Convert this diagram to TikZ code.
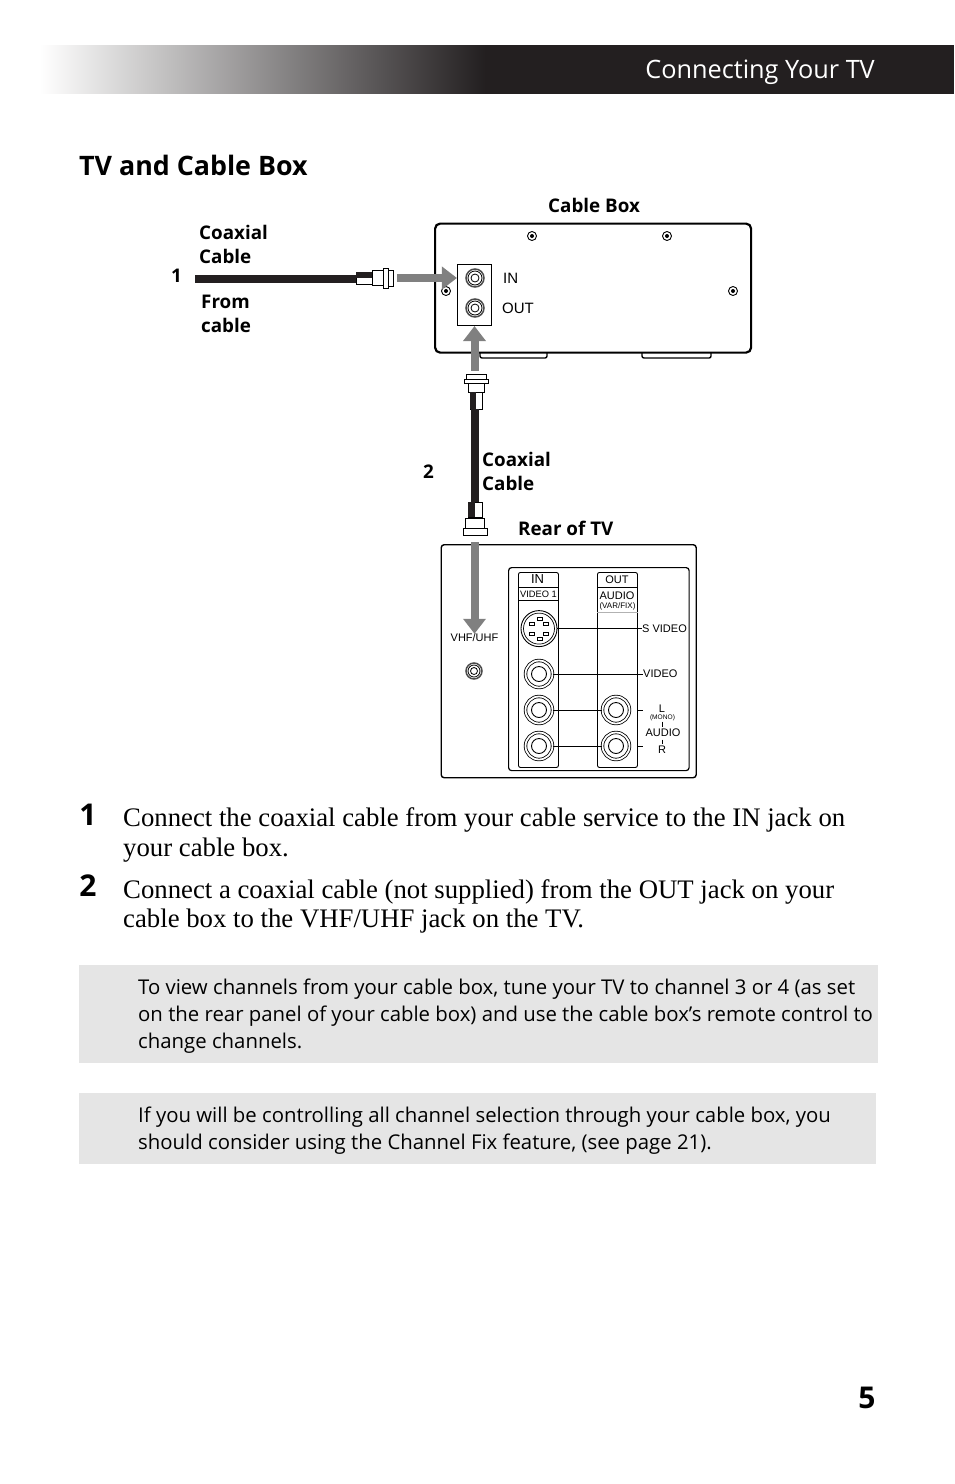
\documentclass[tikz,border=0pt]{standalone}
\usepackage{fontspec}
\setmainfont{Liberation Serif}
\setsansfont{Open Sans}
\newfontfamily\arialfont{Liberation Sans}
\usetikzlibrary{positioning,arrows.meta,calc}
\definecolor{darkbar}{HTML}{231F20}
\tikzset{
  tag/.style ={inner sep=0pt, anchor=west, align=left, font=\sffamily\bfseries\fontsize{18.8}{24}\selectfont},
  small/.style ={inner sep=0pt, font=\arialfont\fontsize{11}{13}\selectfont},
  boxlabel/.style ={inner sep=0pt, anchor=west, font=\arialfont\fontsize{15}{18}\selectfont},
  stepno/.style ={inner sep=0pt, font=\sffamily\bfseries\fontsize{30}{30}\selectfont},
  steptext/.style ={inner sep=0pt, anchor=west, align=left, font=\fontsize{26.75}{29.5}\selectfont},
  notebox/.style ={inner sep=0pt, anchor=north west, fill=black!10},
  notetext/.style ={inner sep=0pt, anchor=west, align=left, font=\sffamily\fontsize{20.35}{27}\selectfont},
  panelbox/.style ={draw=black, line width=1.1pt, fill=white, inner sep=0pt},
  coaxjack/.style ={circle, draw=black!70, line width=1.5pt, fill=white, minimum size=18pt, inner sep=0pt},
  coaxring/.style ={circle, draw=black, line width=0.8pt, inner sep=0pt},
  screw/.style ={circle, draw=black, line width=0.9pt, fill=white, minimum size=9pt, inner sep=0pt},
  rcajack/.style ={circle, draw=black, line width=0.8pt, double=white, double distance=1.8pt, fill=white, minimum size=27pt, inner sep=0pt},
  rcacore/.style ={circle, draw=black, line width=0.9pt, minimum size=15pt, inner sep=0pt},
  column/.style ={draw=black, line width=0.9pt, rounded corners=2pt, inner sep=0pt, minimum width=40pt, minimum height=195pt, anchor=north west},
  plugpart/.style ={rectangle, draw=black, line width=0.9pt, fill=white, inner sep=0pt},
  flow/.style={-{Triangle[length=15pt,width=22pt]}, draw=black!50, line width=8pt},
  coax/.style={draw=darkbar, line width=8pt},
  lead/.style={draw=black, line width=0.8pt},
}
\begin{document}
\begin{tikzpicture}[x=1pt,y=-1pt]
\useasboundingbox (0,0) rectangle (954,1484);
% --- page header ---
\fill[darkbar] (484,45) rectangle (954,94);
\shade[left color=white,right color=darkbar] (40,45) rectangle (485,93.4);
\node[inner sep=0pt, anchor=base east, text=white, font=\sffamily\fontsize{25.3}{28}\selectfont] (pagehead) at (875,78) {Connecting Your TV};
\node[inner sep=0pt, anchor=base west, font=\sffamily\bfseries\fontsize{26.8}{32}\selectfont] (title) at (79,175) {TV and Cable Box};
% --- cable box ---
\draw[line width=1.4pt, rounded corners=2pt, fill=white] (480,352) -- (480,358) -- (547,358) -- (547,352);
\draw[line width=1.4pt, rounded corners=2pt, fill=white] (642,352) -- (642,358) -- (711,358) -- (711,352);
\node[draw=black, line width=2.2pt, rounded corners=5pt, fill=white, inner sep=0pt, minimum width=316pt, minimum height=129pt, anchor=north west] (cablebox) at (434,222.5) {};
\node[panelbox, minimum width=34pt, minimum height=61pt] (jackpanel) at (474.5,295) {};
\foreach \n/\y in {injack/278,outjack/308} {
  \node[coaxjack] (\n) at (475,\y) {};
  \node[coaxring, minimum size=14pt] at (\n) {};
  \node[coaxring, minimum size=8pt] at (\n) {};
}
\foreach \n/\x/\y in {screwa/532/236,screwb/667/236,screwc/446/291,screwd/733/291} {
  \node[screw] (\n) at (\x,\y) {};
  \fill[black] (\n) circle (2pt);
}
\node[boxlabel] (inlabel)  at (503,278) {IN};
\node[boxlabel] (outlabel) at (502,308.5) {OUT};
\node[tag] (boxlabel) at (548,205) {Cable Box};
% --- rear of tv ---
\node[draw=black, line width=1.4pt, rounded corners=3pt, fill=white, inner sep=0pt, minimum width=255pt, minimum height=233pt, anchor=north west] (tvrear) at (440.5,544) {};
\node[draw=black, line width=1.2pt, rounded corners=3pt, fill=white, inner sep=0pt, minimum width=180.5pt, minimum height=203pt, anchor=north west] (tvpanel) at (508,567) {};
\node[column] (incol)  at (518,572) {};
\node[column] (outcol) at (597,572) {};
\draw[lead] (incol.west |- 0,587) -- (incol.east |- 0,587) (incol.west |- 0,600) -- (incol.east |- 0,600) (outcol.west |- 0,587) -- (outcol.east |- 0,587);
\draw[draw=black!30, line width=0.8pt] (outcol.west |- 0,612) -- (outcol.east |- 0,612);
\node[inner sep=0pt, font=\arialfont\fontsize{13}{15}\selectfont] (inhead)  at (537.5,579.5) {IN};
\node[inner sep=0pt, font=\arialfont\fontsize{11}{13}\selectfont] (outhead) at (617,579.5) {OUT};
\node[inner sep=0pt, font=\arialfont\fontsize{9.3}{11}\selectfont] (videoone) at (538.5,594) {VIDEO 1};
\node[small] (audiohead) at (617,595.5) {AUDIO};
\node[inner sep=0pt, font=\arialfont\fontsize{8}{10}\selectfont] (varfix) at (617.5,606) {(VAR/FIX)};
% labels on the right
\node[small, anchor=west] (svideolabel) at (642,628.6) {S VIDEO};
\node[small, anchor=west] (videolabel)  at (643,674) {VIDEO};
\node[small] (llabel)     at (662,709) {L};
\node[inner sep=0pt, font=\arialfont\fontsize{6.6}{8}\selectfont] (monolabel) at (662.5,717.5) {(MONO)};
\node[small] (audiolabel) at (663,733) {AUDIO};
\node[small] (rlabel)     at (662,749.5) {R};
\draw[lead] (662,721.5) -- (662,726.5) (662,739.5) -- (662,744);
% jacks
\node[circle, draw=black, line width=0.9pt, fill=white, minimum size=36pt, inner sep=0pt] (svideo) at (539,628.6) {};
\node[circle, draw=black, line width=0.7pt, minimum size=31pt, inner sep=0pt] (svideoring) at (svideo) {};
\foreach \dx/\dy in {1/-10,-7/-5,7/-5,-7/5,7/5,1/10.5} {
  \draw[line width=0.7pt, fill=white] ($(svideo)+(\dx-2.6,\dy-1.6)$) rectangle ($(svideo)+(\dx+2.6,\dy+1.6)$);
}
\foreach \n/\x/\y in {videojack/539/674,ljack/539/710,rjack/539/746,louta/616/710,routa/616/746} {
  \node[rcajack] (\n) at (\x,\y) {};
  \node[rcacore] at (\n) {};
}
\draw[lead] (svideo.east) -- (svideolabel.west);
\draw[lead] (videojack.east) -- (videolabel.west);
\draw[lead] (ljack.east) -- (louta.west);
\draw[lead] (rjack.east) -- (routa.west);
\draw[lead] (routa.east -| outcol.east) -- +(5,0) (louta.east -| outcol.east) -- +(5,0);
\node[small] (vhflabel) at (474.5,638) {VHF/UHF};
\node[coaxjack, minimum size=16pt] (vhfjack) at (474,671) {};
\node[coaxring, minimum size=12pt] at (vhfjack) {};
\node[coaxring, minimum size=7pt] (vhfcore) at (vhfjack) {};
\node[tag] (tvlabel) at (518,528) {Rear of TV};
% --- plugs ---
\node[plugpart, minimum width=16pt, minimum height=12pt] (plugoneneck) at (364,278) {};
\fill[darkbar] (plugoneneck.north west) rectangle (plugoneneck.east);
\node[plugpart, minimum width=11pt, minimum height=15pt] (plugonebody) at (377.5,278) {};
\node[plugpart, minimum width=5pt, minimum height=20pt] (plugoneflange) at (385.5,278) {};
\node[plugpart, minimum width=5pt, minimum height=16pt] (plugone) at (390.5,278) {};
\node[plugpart, minimum width=20pt, minimum height=5pt] (plugtwotop) at (476,376.5) {};
\node[plugpart, minimum width=24pt, minimum height=4pt] (plugtwoflange) at (476,381) {};
\node[plugpart, minimum width=16pt, minimum height=9pt] (plugtwobody) at (476,387.5) {};
\node[plugpart, minimum width=12pt, minimum height=17pt] (plugtwoneck) at (476,400.5) {};
\fill[darkbar] (plugtwoneck.north west) rectangle (plugtwoneck.south);
\node[plugpart, minimum width=14pt, minimum height=15pt] (plugthreeneck) at (475,509.5) {};
\fill[darkbar] (plugthreeneck.north west) rectangle (plugthreeneck.south);
\node[plugpart, minimum width=19pt, minimum height=10pt] (plugthreebody) at (474.5,523) {};
\node[plugpart, minimum width=24pt, minimum height=7pt] (plugthree) at (475,531.5) {};
% --- cables and arrows ---
\coordinate (cablefree) at (195,279);
\draw[coax] (cablefree) -- (plugoneneck.west |- cablefree);
\draw[coax] (plugthreeneck.north |- plugtwoneck.south) -- (plugthreeneck.north);
\draw[flow, shorten <=4pt] (plugone.east) -- (jackpanel.west |- plugone.east);
\draw[flow, shorten <=3pt] (plugtwotop.north -| jackpanel.south) -- (jackpanel.south);
\draw[flow, shorten <=7pt] (plugthree.south -| vhflabel.north) -- (vhflabel.north);
% --- diagram labels ---
\node[tag] (coaxone)  at (199,244) {Coaxial\\Cable};
\node[tag] (fromcable) at (201,314) {From\\cable};
\node[tag] (numone)   at (171,276) {1};
\node[tag] (numtwo)   at (423,472) {2};
\node[tag] (coaxtwo)  at (482,471) {Coaxial\\Cable};
% --- steps ---
\node[stepno] (stepone) at (88,815) {1};
\node[stepno] (steptwo) at (88,886) {2};
\node[steptext] (textone) at (123,835) {Connect the coaxial cable from your cable service to the IN jack on\\your cable box.};
\node[steptext] (texttwo) at (123,906.5) {Connect a coaxial cable (not supplied) from the OUT jack on your\\cable box to the VHF/UHF jack on the TV.};
% --- notes ---
\node[notebox, minimum width=799pt, minimum height=98pt] (noteone) at (79,965) {};
\node[notebox, minimum width=797pt, minimum height=71pt] (notetwo) at (79,1093) {};
\node[notetext] (noteonetext) at (138,1016) {To view channels from your cable box, tune your TV to channel 3 or 4 (as set\\on the rear panel of your cable box) and use the cable box’s remote control to\\change channels.};
\node[notetext] (notetwotext) at (138,1130.5) {If you will be controlling all channel selection through your cable box, you\\should consider using the Channel Fix feature, (see page 21).};
\node[inner sep=0pt, font=\sffamily\bfseries\fontsize{30}{30}\selectfont] (pageno) at (867,1398) {5};
\end{tikzpicture}
\end{document}
